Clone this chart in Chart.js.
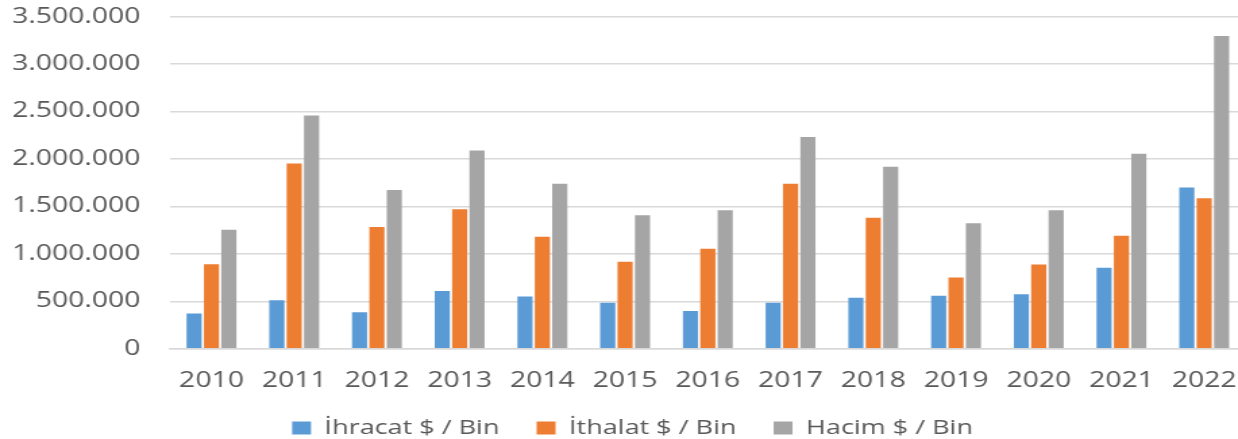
<!DOCTYPE html>
<html>
<head>
<meta charset="utf-8">
<script src="https://cdn.jsdelivr.net/npm/chart.js@4/dist/chart.umd.min.js"></script>
<style>
  html, body { margin: 0; padding: 0; background: #fff; overflow: hidden; }
  /* the source picture is stretched sideways and cropped a little, so the chart is drawn
     narrow, widened, and nudged so the plot lands where it does in the picture */
  #wrap { position: absolute; left: 0; top: -18px; width: 928px; height: 466px;
          transform: scaleX(1.35); transform-origin: 0 0; }
</style>
</head>
<body>
<div id="wrap"><canvas id="myChart"></canvas></div>
<script>
const years = ['2010','2011','2012','2013','2014','2015','2016','2017','2018','2019','2020','2021','2022'];
const ihracat = [373000, 511000, 384000, 610000, 550000, 486000, 398000, 486000, 539000, 560000, 574000, 853000, 1699000];
const ithalat = [891000, 1953000, 1283000, 1470000, 1181000, 917000, 1054000, 1738000, 1382000, 751000, 888000, 1192000, 1586000];
const hacim = [1255000, 2457000, 1674000, 2090000, 1738000, 1406000, 1459000, 2231000, 1917000, 1322000, 1459000, 2055000, 3296000];
const seriesNames = ['İhracat $ / Bin', 'İthalat $ / Bin', 'Hacim $ / Bin'];

const ctx = document.getElementById('myChart');
const textColor = '#595959';
const fontFam = "'Open Sans', sans-serif";

const myChart = new Chart(ctx, {
    type: 'bar',
    data: {
        labels: years,
        datasets: [
            { label: seriesNames[0], data: ihracat, backgroundColor: '#5B9BD5' },
            { label: seriesNames[1], data: ithalat, backgroundColor: '#ED7D31' },
            { label: seriesNames[2], data: hacim, backgroundColor: '#A5A5A5' }
        ]
    },
    options: {
        responsive: true,
        maintainAspectRatio: false,
        animation: false,
        datasets: {
            bar: {
                categoryPercentage: 0.63,
                barPercentage: 0.87
            }
        },
        layout: {
            padding: { top: 0, left: 9, right: 0, bottom: 0 }
        },
        scales: {
            x: {
                grid: { display: false },
                border: { display: true, color: '#d9d9d9', width: 1.5 },
                ticks: {
                    color: textColor,
                    font: { family: fontFam, size: 21 },
                    padding: 12,
                    maxRotation: 0
                }
            },
            y: {
                min: 0,
                max: 3500000,
                afterFit: s => { s.width = 117; },
                ticks: {
                    stepSize: 500000,
                    color: textColor,
                    font: { family: fontFam, size: 21 },
                    padding: 22,
                    callback: v => v.toLocaleString('tr-TR')
                },
                grid: { color: '#d9d9d9', lineWidth: 1.5, drawTicks: false },
                border: { display: false }
            }
        },
        plugins: {
            legend: {
                position: 'bottom',
                labels: {
                    color: textColor,
                    font: { family: fontFam, size: 20 },
                    boxWidth: 14,
                    boxHeight: 13,
                    padding: 12,
                    // wider gaps between items than the padding alone gives
                    generateLabels: chart => {
                        const items = Chart.defaults.plugins.legend.labels.generateLabels(chart);
                        items.forEach((it, i) => {
                            if (i < items.length - 1) it.text = it.text + '\u00a0\u00a0\u00a0';
                        });
                        return items;
                    }
                }
            },
            tooltip: { enabled: false }
        }
    }
});
</script>
</body>
</html>
